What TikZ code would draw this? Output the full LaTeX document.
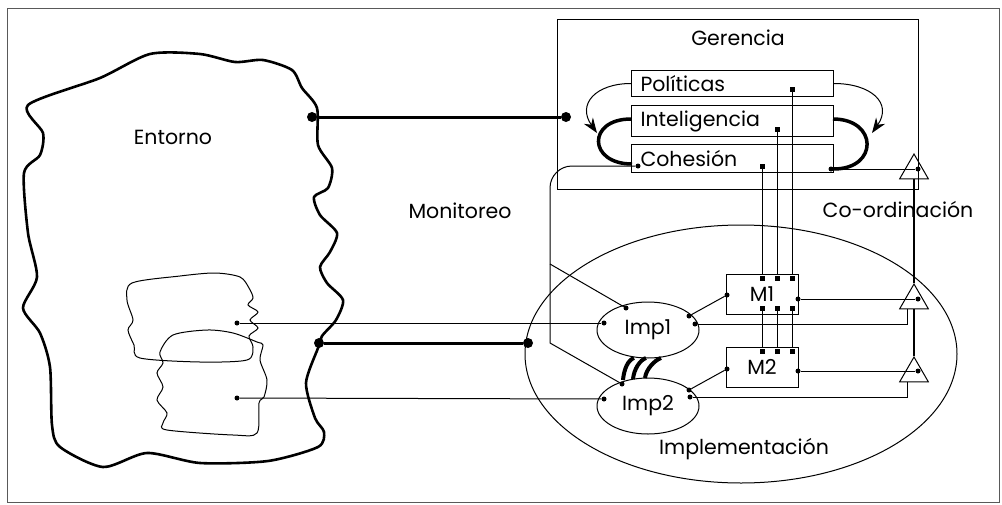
\documentclass[tikz,border=0pt]{standalone}
\usepackage{fontspec}
\setmainfont{Poppins}
\usepackage{tikz}
\usetikzlibrary{shapes.geometric,arrows.meta}
\tikzset{wire/.style={line width=1pt},
	heavywire/.style={line width=3pt},
	vwire/.style={line width=2.2pt},
	loopwire/.style={line width=3.5pt},
	flow/.style={line width=1pt,-{Stealth[length=15pt,width=11pt]}},
	smalldot/.style={circle,fill,inner sep=0pt,minimum size=5pt},
	bigdot/.style={circle,fill,inner sep=0pt,minimum size=10pt},
	port/.style={rectangle,fill,inner sep=0pt,minimum size=5pt},
	funcbox/.style={draw,line width=1pt,anchor=north west,inner xsep=9pt,inner ysep=0pt,text width=184pt,align=left},
	unitbox/.style={draw,line width=1pt,minimum width=72pt,minimum height=40pt,inner sep=0pt},
	impnode/.style={ellipse,draw,line width=1pt,minimum width=102pt,minimum height=56pt,inner sep=0pt},
	amp/.style={regular polygon,regular polygon sides=3,draw,line width=1pt,minimum size=33pt,inner sep=0pt}}

\begin{document}
\begin{tikzpicture}[x=1pt,y=-1pt,font=\fontsize{20.5}{24}\selectfont]
		\useasboundingbox (0,0) rectangle (1002,504);
		\draw[line width=1pt,black!65] (7,8) rectangle (999,502);
		%
		\draw[line width=2.6pt,line join=round] plot[smooth cycle,tension=0.45] coordinates {
			(28,105) (100,78) (150,54) (200,54) (235,62) (263,60) (292,70)
			(302,88) (317,108) (318,145) (332,168) (328,188) (314,197) (320,215)
			(337,233) (330,252) (320,267) (327,283) (343,300) (336,320) (322,336)
			(318,348) (306,383) (315,418) (324,432) (318,447) (268,461) (200,463)
			(147,453) (103,467) (60,447) (52,425) (50,367) (40,333) (23,308)
			(37,277) (28,233) (24,173) (40,155) (43,133)};
		\draw[wire] plot[smooth cycle,tension=0.5] coordinates {
			(132,283) (180,276) (215,273) (240,277) (249,288) (253,298) (248,305)
			(258,312) (250,320) (258,328) (249,336) (253,347) (247,360) (200,362)
			(140,358) (134,345) (128,330) (133,320) (127,300)};
		\draw[wire] plot[smooth cycle,tension=0.5] coordinates {
			(173,335) (207,330) (233,333) (257,342) (263,345) (260,360) (267,380)
			(264,397) (259,403) (257,433) (233,435) (167,430) (163,423) (167,413)
			(157,400) (163,387) (157,373) (163,363) (160,352)};
		\node (entorno) at (173,137) {Entorno};
		\node[smalldot] (c1d) at (237,323) {};
		\node[smalldot] (c2d) at (237,398) {};
		%
		\node[draw,ellipse,line width=1pt,minimum width=432pt,minimum height=258pt] (impl) at (741,354) {};
		\node (impllbl) at (744,449) {Implementación};
		\node (monit) at (460,211) {Monitoreo};
		\node (coord) at (898,210) {Co-ordinación};
		%
		\node[draw,line width=1pt,minimum width=361pt,minimum height=170pt,anchor=north west] (ger) at (557,19) {};
		\node (gerlbl) at (738,38) {Gerencia};
		\node[funcbox,minimum height=26pt] (pol) at (631,70) {Políticas};
		\node[funcbox,minimum height=31pt] (int) at (631,105) {Inteligencia};
		\node[funcbox,minimum height=28pt] (coh) at (631,144) {Cohesión};
		\node[port] (polp) at (792,89) {};
		\node[port] (intp) at (777,129) {};
		\node[port] (cohp) at (762,166) {};
		\node[smalldot] (cohl) at (638,166) {};
		\node[smalldot] (cohr) at (831,169) {};
		\coordinate (intl) at (631,119);
		\coordinate (intr) at (833,119);
		\coordinate (cohla) at (632,164);
		\coordinate (tipl) at (597,133);
		\coordinate (tipr) at (872,133);
		%
		\draw[loopwire] (intl) to[out=180,in=180,looseness=2.5] (cohla);
		\draw[loopwire] (intr) to[out=0,in=0,looseness=2.3] (cohr);
		\draw[flow] (pol.west) to[out=180,in=125,looseness=1.5] (tipl);
		\draw[flow] (pol.east) to[out=0,in=55,looseness=1.5] (tipr);
		%
		\node[amp] (t1) at (914,170.5) {};
		\node[amp] (t2) at (914,300.5) {};
		\node[amp] (t3) at (914,373.5) {};
		\node[smalldot] (t1d) at (918,169) {};
		\node[smalldot] (t2d) at (918,299) {};
		\node[smalldot] (t3d) at (918,371) {};
		\draw[vwire] (t1.south) -- (t2.north);
		\draw[vwire] (t2.south) -- (t3.north);
		%
		\node[unitbox] (m1) at (762,294) {M1};
		\node[unitbox] (m2) at (762,367) {M2};
		\foreach \x/\n in {762/a,777/b,792/c} {
			\node[port] (m1t\n) at (\x,278) {};
			\node[port] (m1b\n) at (\x,308) {};
			\node[port] (m2t\n) at (\x,351) {};
			\draw[wire] (m1b\n) -- (m2t\n);
		}
		\draw[wire] (cohp) -- (m1ta);
		\draw[wire] (intp) -- (m1tb);
		\draw[wire] (polp) -- (m1tc);
		\node[smalldot] (m1l) at (727,295) {};
		\node[smalldot] (m1r) at (798,299) {};
		\node[smalldot] (m2l) at (727,369) {};
		\node[smalldot] (m2r) at (798,371) {};
		%
		\node[impnode] (imp1) at (648,330) {Imp1};
		\node[impnode] (imp2) at (648,406) {Imp2};
		\node[smalldot] (i1t) at (626,308) {};
		\node[smalldot] (i1l) at (604,323) {};
		\node[smalldot] (i1u) at (689,316) {};
		\node[smalldot] (i1r) at (695,324) {};
		\node[smalldot] (i2t) at (622,384) {};
		\node[smalldot] (i2l) at (604,399) {};
		\node[smalldot] (i2u) at (689,390) {};
		\node[smalldot] (i2r) at (690,397) {};
		\foreach \a/\b/\c in {623/634/380,633/646/379,645/661/378}
			\draw[line width=4pt] (\a,\c) .. controls (\a+1,369) and (\b-6,360) .. (\b,358);
		%
		\node[bigdot] (envtop) at (312,117) {};
		\node[bigdot] (gertop) at (566,117) {};
		\node[bigdot] (envbot) at (319,343) {};
		\node[bigdot] (impldot) at (528,343) {};
		\draw[heavywire] (envtop) -- (gertop);
		\draw[heavywire] (envbot) -- (impldot);
		\draw[wire] (c1d) -- (i1l);
		\draw[wire] (c2d) -- (i2l);
		%
		\coordinate (mbranch) at (550,264);
		\coordinate (mbend) at (550,343);
		\draw[wire,rounded corners=22pt] (cohl) -| (mbranch);
		\draw[wire] (mbranch) -- (mbend) -- (i2t);
		\draw[wire] (mbranch) -- (i1t);
		%
		\draw[wire] (i1u) -- (m1l);
		\draw[wire] (i2u) -- (m2l);
		\draw[wire] (cohr) -- (t1d);
		\draw[wire] (m1r) -- (t2d);
		\draw[wire] (m2r) -- (t3d);
		\draw[wire] (i1r) -| ([xshift=-7pt]t2.south);
		\draw[wire] (i2r) -| ([xshift=-7pt]t3.south);
	\end{tikzpicture}
\end{document}
